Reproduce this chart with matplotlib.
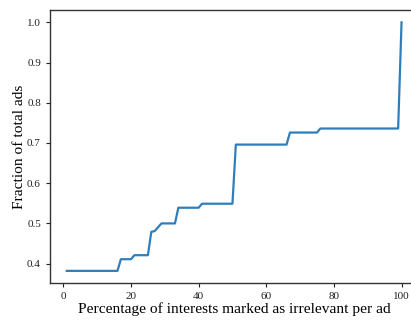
import matplotlib
matplotlib.use("Agg")
import matplotlib.pyplot as plt

plt.rcParams['font.family'] = ['Liberation Serif', 'DejaVu Serif']

# breakpoints of the cumulative curve (percent irrelevant, fraction of ads)
pct = [1, 16, 17, 20, 21, 25, 26, 27, 29, 33, 34, 40, 41, 50, 51, 66, 67, 75, 76, 99, 100]
frac = [0.382, 0.382, 0.411, 0.411, 0.421, 0.421, 0.479, 0.481, 0.500, 0.500,
        0.539, 0.539, 0.549, 0.549, 0.696, 0.696, 0.726, 0.726, 0.736, 0.736, 1.0]

fig = plt.figure(figsize=(4.11, 3.2), dpi=100)
ax = fig.add_axes([0.1217, 0.1147, 0.896, 0.8543])
ax.plot(pct, frac, color='#2f7ebc', lw=1.6)

ax.set_xticks([0, 20, 40, 60, 80, 100])
ax.set_yticks([0.4, 0.5, 0.6, 0.7, 0.8, 0.9, 1.0])
ax.tick_params(labelsize=8, length=3, width=0.8, colors='#222222')
for s in ax.spines.values():
    s.set_color('#333333')
    s.set_linewidth(1.0)

ax.set_xlabel('Percentage of interests marked as irrelevant per ad', fontsize=11.1, labelpad=1)
ax.set_ylabel('Fraction of total ads', fontsize=11.1, labelpad=0.5)

fig.savefig('out.png', dpi=100)
